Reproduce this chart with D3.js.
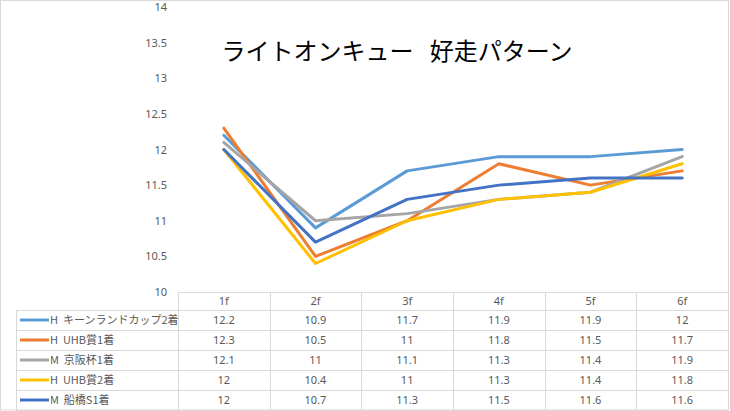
<!DOCTYPE html>
<html>
<head>
<meta charset="utf-8">
<script src="https://cdn.jsdelivr.net/npm/d3@7"></script>
<style>
  html, body { margin: 0; padding: 0; background: #fff; }
  svg { display: block; }
  text { font-family: "Noto Sans CJK JP", "Noto Sans", sans-serif; }
</style>
</head>
<body>
<svg id="chart" width="730" height="411"></svg>
<script>
const title = "ライトオンキュー   好走パターン";
const categories = ["1f", "2f", "3f", "4f", "5f", "6f"];
const seriesNames = [
  "H  キーンランドカップ2着",
  "H  UHB賞1着",
  "M  京阪杯1着",
  "H  UHB賞2着",
  "M  船橋S1着"
];
const seriesColors = ["#5B9BD5", "#ED7D31", "#A5A5A5", "#FFC000", "#4472C4"];
const keenelandCup2 = [12.2, 10.9, 11.7, 11.9, 11.9, 12];
const uhb1 = [12.3, 10.5, 11, 11.8, 11.5, 11.7];
const keihanhai1 = [12.1, 11, 11.1, 11.3, 11.4, 11.9];
const uhb2 = [12, 10.4, 11, 11.3, 11.4, 11.8];
const funabashi1 = [12, 10.7, 11.3, 11.5, 11.6, 11.6];
const seriesValues = [keenelandCup2, uhb1, keihanhai1, uhb2, funabashi1];
const yTicks = [10, 10.5, 11, 11.5, 12, 12.5, 13, 13.5, 14];

const svg = d3.select("#chart");
const W = 730, H = 411;
const gridColor = "#D9D9D9";
const textColor = "#595959";

// outer border
svg.append("rect").attr("x", 0.5).attr("y", 0.5).attr("width", W - 2).attr("height", H - 1.5)
  .attr("fill", "#fff").attr("stroke", gridColor).attr("stroke-width", 1);

const plotLeft = 178, plotRight = 728, plotTop = 7, plotBottom = 292;
const x = d3.scaleBand().domain(categories).range([plotLeft, plotRight]).padding(0);
const y = d3.scaleLinear().domain([10, 14]).range([plotBottom, plotTop]);

// title
svg.append("text").attr("x", 397).attr("y", 60).attr("text-anchor", "middle")
  .attr("font-size", 24).attr("fill", "#000").style("white-space", "pre").text(title);

// y axis
const yAxis = d3.axisLeft(y).tickValues(yTicks).tickSize(0).tickPadding(11).tickFormat(d => String(d));
const yg = svg.append("g").attr("transform", `translate(${plotLeft},0)`).call(yAxis);
yg.select(".domain").remove();
yg.selectAll("text").attr("fill", textColor).attr("font-size", 11)
  .style("font-family", '"Noto Sans", sans-serif');

// lines
const line = d3.line().x((d, i) => x(categories[i]) + x.bandwidth() / 2).y(d => y(d));
seriesValues.forEach((vals, si) => {
  svg.append("path").datum(vals).attr("d", line)
    .attr("fill", "none").attr("stroke", seriesColors[si]).attr("stroke-width", 3)
    .attr("stroke-linejoin", "round").attr("stroke-linecap", "round");
});

// data table
const headerTop = 292, headerH = 18, rowH = 20, legendLeft = 16;
const rowsTop = headerTop + headerH;
const tableBottom = rowsTop + rowH * seriesNames.length;
const tg = svg.append("g").attr("shape-rendering", "crispEdges");
tg.append("line").attr("x1", plotLeft).attr("x2", plotRight).attr("y1", headerTop + 0.5).attr("y2", headerTop + 0.5)
  .attr("stroke", gridColor);
d3.range(seriesNames.length + 1).forEach(i => {
  const yy = rowsTop + i * rowH + 0.5;
  tg.append("line").attr("x1", legendLeft).attr("x2", plotRight).attr("y1", yy).attr("y2", yy).attr("stroke", gridColor);
});
tg.append("line").attr("x1", legendLeft + 0.5).attr("x2", legendLeft + 0.5).attr("y1", rowsTop).attr("y2", tableBottom).attr("stroke", gridColor);
categories.concat(["_end"]).forEach((c, i) => {
  const xx = Math.round(plotLeft + i * x.bandwidth()) + 0.5;
  tg.append("line").attr("x1", xx).attr("x2", xx).attr("y1", headerTop).attr("y2", tableBottom).attr("stroke", gridColor);
});
svg.selectAll(".hdr").data(categories).enter().append("text")
  .attr("x", d => x(d) + x.bandwidth() / 2).attr("y", headerTop + headerH / 2 + 4)
  .attr("text-anchor", "middle").attr("font-size", 11).attr("fill", textColor)
  .style("font-family", '"Noto Sans", sans-serif').text(d => d);
seriesNames.forEach((name, si) => {
  const cy = rowsTop + si * rowH + rowH / 2;
  svg.append("line").attr("x1", 20).attr("x2", 49).attr("y1", cy).attr("y2", cy)
    .attr("stroke", seriesColors[si]).attr("stroke-width", 3);
  svg.append("text").attr("x", 50).attr("y", cy + 4).attr("font-size", 11).attr("fill", textColor)
    .style("white-space", "pre").text(name);
  seriesValues[si].forEach((v, ci) => {
    svg.append("text").attr("x", x(categories[ci]) + x.bandwidth() / 2).attr("y", cy + 4)
      .attr("text-anchor", "middle").attr("font-size", 11).attr("fill", textColor)
      .style("font-family", '"Noto Sans", sans-serif').text(String(v));
  });
});
</script>
</body>
</html>
